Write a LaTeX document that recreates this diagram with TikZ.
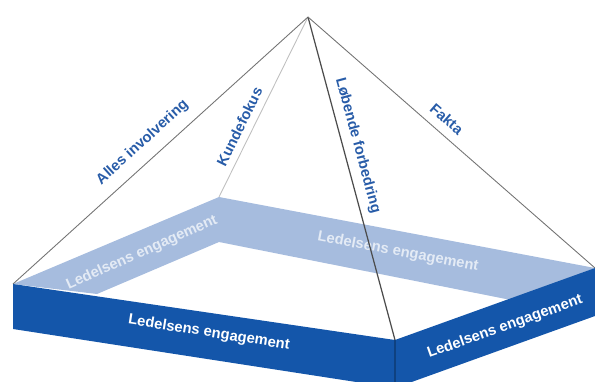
\documentclass[tikz,border=0pt]{standalone}
\usepackage{fontspec}
\setmainfont{Liberation Sans}
\definecolor{bandblue}{RGB}{20,86,170}
\definecolor{innerblue}{RGB}{166,188,222}
\definecolor{labelblue}{RGB}{40,92,168}
\tikzset{
  ridge/.style={draw=black!55, line width=0.5pt},
  ridgelabel/.style={font=\bfseries\fontsize{8.4}{10}\selectfont, text=labelblue, inner sep=0pt, sloped},
  bandlabel/.style={font=\bfseries\fontsize{8.4}{10}\selectfont, text=white, inner sep=0pt},
  innerlabel/.style={bandlabel, text=white!70!innerblue}
}

\begin{document}
\begin{tikzpicture}[x=0.02cm,y=-0.02cm]
\useasboundingbox (0,0) rectangle (595,382);
\coordinate (apex) at (308,17);
\coordinate (left) at (13,284);
\coordinate (back) at (219,197);
\coordinate (right) at (595,268);
\coordinate (front) at (395,340);
\coordinate (leftlow) at (13,329);
\coordinate (frontlow) at (395,388);
\coordinate (rightlow) at (595,316);
\coordinate (backlow) at (219,242);
\coordinate (innerleft) at (97,294);
\coordinate (innerright) at (511,300);

\draw[ridge, draw=black!25] (apex) -- (back) node[ridgelabel, pos=0.64, above=4pt] (kunde) {Kundefokus};
\fill[innerblue] (left) -- (back) -- (right) -- (innerright) -- (backlow) -- (innerleft) -- cycle;
\node[innerlabel, rotate=24] (innerL) at (142,253) {Ledelsens engagement};
\node[innerlabel, rotate=-10.6] (innerR) at (398,252) {Ledelsens engagement};

\draw[ridge] (left) -- (apex) node[ridgelabel, pos=0.48, above=6pt] (alle) {Alles involvering};
\draw[ridge, draw=black!70, line width=0.7pt] (apex) -- (front) node[ridgelabel, pos=0.41, above=4pt] (lobende) {Løbende forbedring};
\draw[ridge] (apex) -- (right) node[ridgelabel, pos=0.45, above=5pt] (fakta) {Fakta};

\fill[bandblue] (left) -- (front) -- (right) -- (rightlow) -- (frontlow) -- (leftlow) -- cycle;
\draw[bandblue!75!black, line width=0.6pt] (front) -- (frontlow);
\node[bandlabel, rotate=-9] (bandL) at (209,333) {Ledelsens engagement};
\node[bandlabel, rotate=19.5] (bandR) at (505,327) {Ledelsens engagement};
\end{tikzpicture}
\end{document}
